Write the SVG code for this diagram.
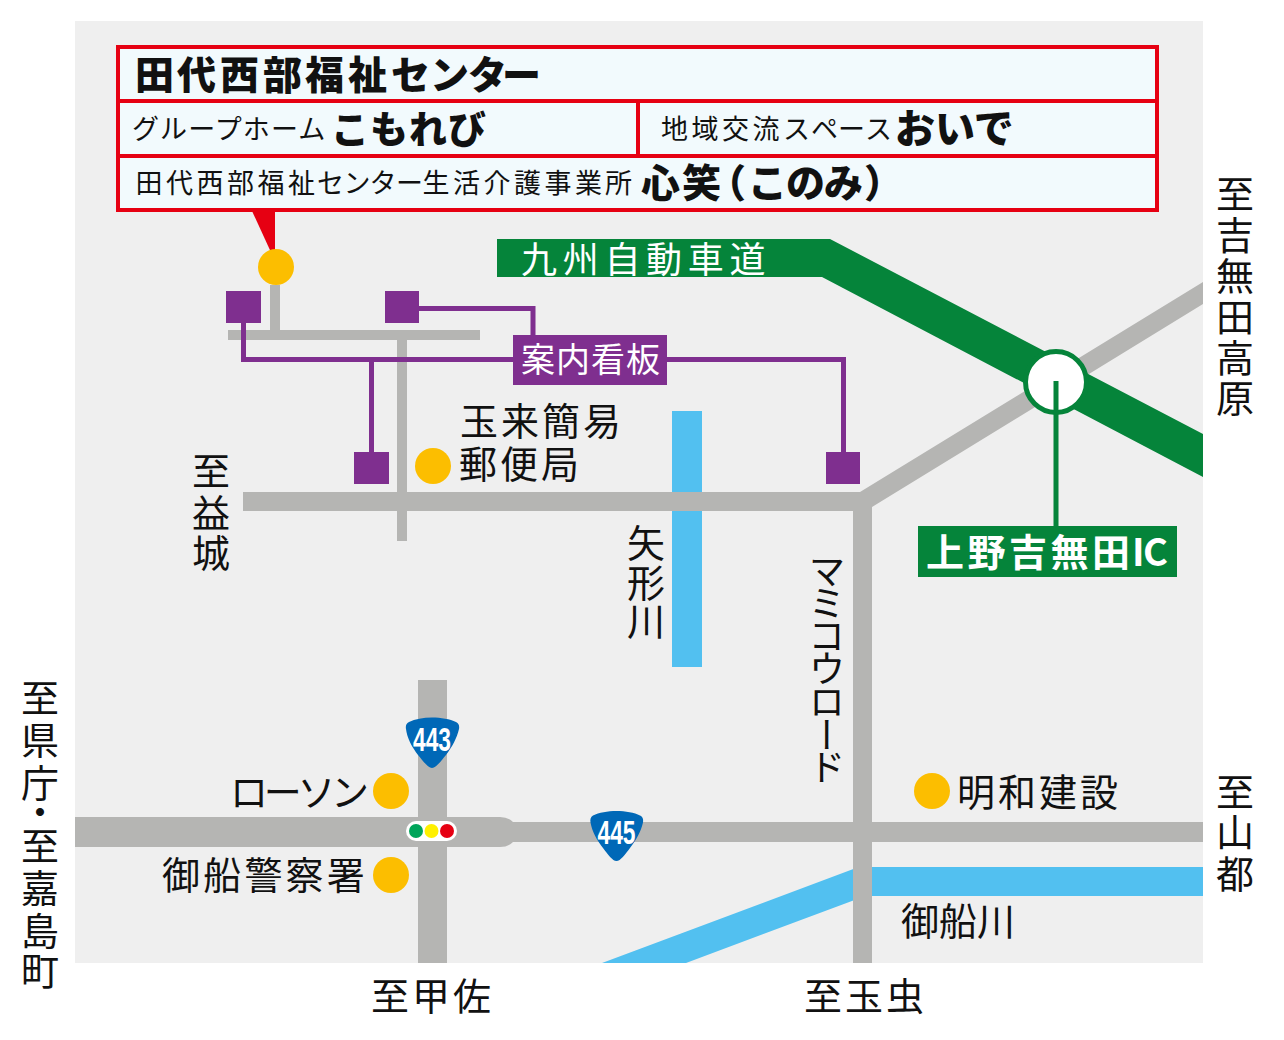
<svg xmlns="http://www.w3.org/2000/svg" width="1284" height="1040" viewBox="0 0 1284 1040">
<style>
text{font-family:"Noto Sans CJK JP","Noto Sans",sans-serif;fill:#111}
.w{fill:#fff}
.b{font-weight:700}
.k{font-weight:900}
.road{fill:#b5b5b3}
.river{fill:#52c0f0}
.pl{fill:none;stroke:#7f2f8f;stroke-width:5}
.pin{fill:#fcbe00}
.sq{fill:#7f2f8f}
.shield{fill:#0068b7}
.num{font-family:"Liberation Sans",Arial,sans-serif;font-weight:700;font-size:34px;fill:#fff}
</style>
<rect width="1284" height="1040" fill="#fff"/>
<rect id="map" x="75" y="21" width="1128" height="942" fill="#efefef"/>
<g id="rivers">
<rect class="river" x="672" y="411" width="30" height="256"/>
<path class="river" d="M1203 867H860V866.500L602 963H686L860 898V896H1203Z"/>
</g>
<g id="connectors">
<path class="road" d="M270 285H280V330H480V340H407V541H397V340H228V330H270Z"/>
<path class="road" d="M243 492H860L1203 282V304L872 507V963H853V511H243Z"/>
<path class="road" d="M418 680H447V817H500Q508 817 513 822H1203V842H513Q508 847 500 847H447V963H418V847H75V817H418Z"/>
<path fill="#05843a" d="M497 239H830L1203 434V477L822 277H497Z"/>
<path class="pl" d="M243.500 323V359.500H514M371.500 359.500V452M419 308.500H533V335M667 359.500H843.500V452"/>
<path fill="#e60012" d="M252 211H275V261Z"/>
</g>
<g id="sq1"><rect class="sq" x="226" y="291" width="35" height="32"/></g>
<g id="sq2"><rect class="sq" x="385" y="291" width="34" height="32"/></g>
<g id="sq3"><rect class="sq" x="354" y="452" width="35" height="32"/></g>
<g id="sq4"><rect class="sq" x="826" y="452" width="34" height="32"/></g>
<g id="pin-center"><circle class="pin" cx="276" cy="267" r="18"/></g>
<g id="pin-post"><circle class="pin" cx="433" cy="466" r="18"/></g>
<g id="pin-lawson"><circle class="pin" cx="391" cy="791" r="18"/></g>
<g id="pin-police"><circle class="pin" cx="391" cy="875" r="18"/></g>
<g id="pin-meiwa"><circle class="pin" cx="932" cy="791" r="18"/></g>
<g id="callout">
<rect x="118" y="47" width="1039" height="163" fill="#f2fafd" stroke="#e60012" stroke-width="4"/>
<path d="M118 101H1157M118 156H1157M638 101V156" fill="none" stroke="#e60012" stroke-width="4"/>
<text class="k" x="135 177 220 263 305 348 391 430 468 502" y="89" font-size="39">田代西部福祉センター</text>
<text x="132" y="139" font-size="27" letter-spacing="1.100">グループホーム</text>
<text class="k" x="331" y="143" font-size="38" letter-spacing="1">こもれび</text>
<text x="661 691.500 722 752.500 783 811 838 865" y="139" font-size="27">地域交流スペース</text>
<text class="k" x="895" y="143" font-size="40">おいで</text>
<text x="135.500 166 196.500 227 257.500 288 317 343.500 369.500 396 422.500 453 483.500 514 544.500 575 605" y="193" font-size="27">田代西部福祉センター生活介護事業所</text>
<text class="k" x="641 682 707 748 786 824 864" y="197" font-size="39">心笑（このみ）</text>
</g>
<g id="expressway-label"><text class="w" x="521" y="273" font-size="36" letter-spacing="5.700">九州自動車道</text></g>
<g id="sign-label"><rect class="sq" x="513" y="335" width="154" height="50"/><text class="w" x="521" y="372" font-size="34" letter-spacing="1">案内看板</text></g>
<g id="ic"><circle cx="1056" cy="382" r="30.500" fill="#fff" stroke="#05843a" stroke-width="5"/>
<path d="M1056 381V527" stroke="#05843a" stroke-width="5" fill="none"/>
<rect x="918" y="526" width="259" height="51" fill="#05843a"/>
<text class="w b" x="926 967.500 1009 1050.500 1092 1132 1143" y="566" font-size="38">上野吉無田IC</text></g>
<g id="shield443"><path class="shield" d="M432 717.500C441 717.500 450 719 456 722C459 723.500 459.500 726 459 729C457 738 452 747 446 755C441 761 436 768 432 768C428 768 423 761 418 755C412 747 407 738 406 729C405.500 726 406 723.500 409 722C415 719 423 717.500 432 717.500Z"/><text class="num" x="432" y="751" text-anchor="middle" textLength="38" lengthAdjust="spacingAndGlyphs">443</text></g>
<g id="shield445"><path class="shield" d="M616.500 811C625.500 811 634.500 812.500 640 815.500C643 817 643.500 819.500 643 822.500C641 831.500 636 840.500 630 848C625 854.500 620.500 861 616.500 861C612.500 861 608 854.500 603 848C597 840.500 592 831.500 590.500 822.500C590 819.500 590.500 817 593 815.500C599 812.500 607.500 811 616.500 811Z"/><text class="num" x="616.500" y="844" text-anchor="middle" textLength="38" lengthAdjust="spacingAndGlyphs">445</text></g>
<g id="signal"><rect x="406" y="821" width="51" height="20" rx="10" fill="#fff"/><circle cx="416" cy="831" r="7" fill="#00a55a"/><circle cx="431.500" cy="831" r="7" fill="#fff000"/><circle cx="447" cy="831" r="7" fill="#e60012"/></g>
<g id="labels" font-size="38">
<text x="460" y="435" letter-spacing="3">玉来簡易</text>
<text x="459" y="478" letter-spacing="3">郵便局</text>
<text x="230" y="806" letter-spacing="-4.300">ローソン</text>
<text x="162" y="889" letter-spacing="3.200">御船警察署</text>
<text x="957" y="806" letter-spacing="3">明和建設</text>
<text x="901" y="935">御船川</text>
<text x="371" y="1010" letter-spacing="3">至甲佐</text>
<text x="804" y="1010" letter-spacing="3">至玉虫</text>
<text x="192 192 192" y="485 527 567">至益城</text>
<text x="627 627 627" y="557 597 635">矢形川</text>
<text x="1216 1216 1216 1216 1216 1216" y="208 249 290 331 372 412">至吉無田高原</text>
<text x="21 21 21 21 21 21 21 21" y="712 754 797 826 860 902 945 985">至県庁・至嘉島町</text>
<text x="1216 1216 1216" y="806 846 888">至山都</text>
<text x="827" y="552" font-size="37" style="writing-mode:vertical-rl;text-orientation:upright" letter-spacing="-4.200">マミコウロード</text>
</g>
</svg>
